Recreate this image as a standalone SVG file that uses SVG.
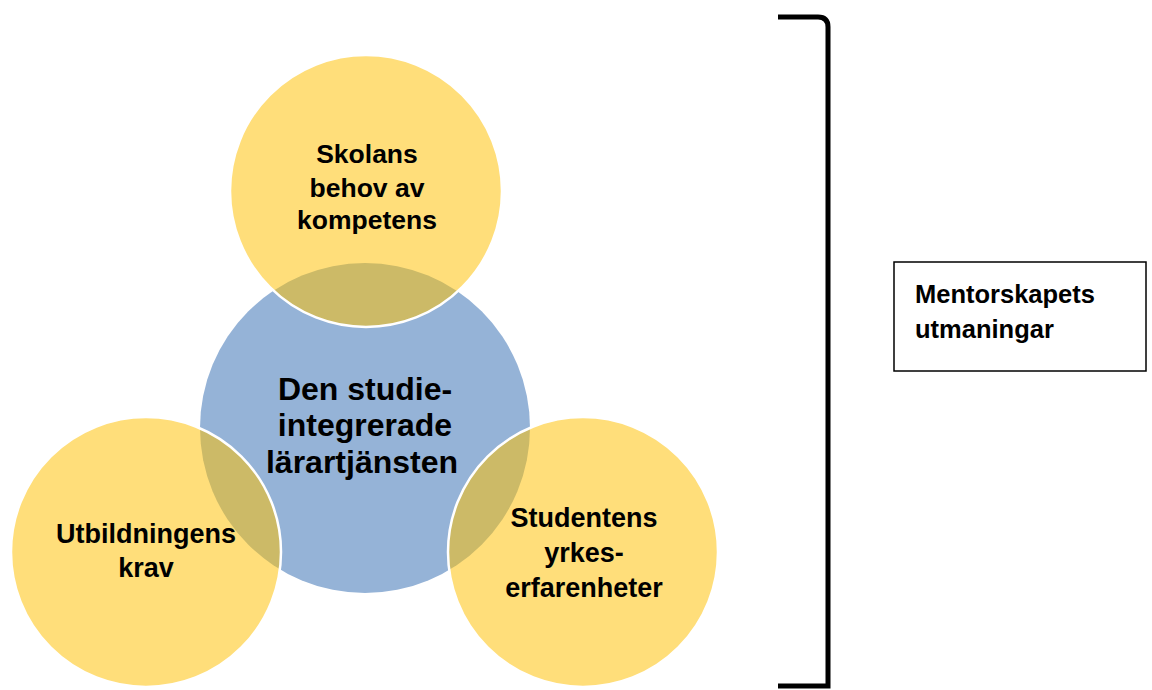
<svg xmlns="http://www.w3.org/2000/svg" width="1152" height="690" viewBox="0 0 1152 690">
<style>
.lbl{font-family:"Liberation Sans",Arial,sans-serif;font-weight:bold;fill:#000;text-anchor:middle}
.outer{fill:#FFC000;fill-opacity:0.52;stroke:#FFFFFF;stroke-width:2.5}
.center{fill:#95B3D7}
</style>
<rect width="1152" height="690" fill="#FFFFFF"/>
<g id="node-center">
<circle class="center" cx="365" cy="428" r="165"/>
<text class="lbl" font-size="32" x="365" y="400">Den studie-</text>
<text class="lbl" font-size="32" x="365" y="436">integrerade</text>
<text class="lbl" font-size="32" x="362" y="473">lärartjänsten</text>
</g>
<g id="node-top">
<circle class="outer" cx="366" cy="191" r="136"/>
<text class="lbl" font-size="26.5" x="367" y="163">Skolans</text>
<text class="lbl" font-size="26.5" x="367" y="197">behov av</text>
<text class="lbl" font-size="26.5" x="367" y="229">kompetens</text>
</g>
<g id="node-left">
<circle class="outer" cx="146" cy="552" r="135"/>
<text class="lbl" font-size="27" x="146" y="543">Utbildningens</text>
<text class="lbl" font-size="27" x="146" y="577">krav</text>
</g>
<g id="node-right">
<circle class="outer" cx="583" cy="552" r="135"/>
<text class="lbl" font-size="27" x="584" y="527">Studentens</text>
<text class="lbl" font-size="27" x="584" y="562">yrkes-</text>
<text class="lbl" font-size="27" x="584" y="597">erfarenheter</text>
</g>
<g id="connectors">
<path d="M778,17 H818 Q828,17 828,27 V686 H778" fill="none" stroke="#000" stroke-width="5"/>
</g>
<g id="node-box">
<rect x="894" y="262" width="252" height="109" fill="#FFFFFF" stroke="#000" stroke-width="1.5"/>
<text class="lbl" font-size="25.5" x="915" y="303" style="text-anchor:start">Mentorskapets</text>
<text class="lbl" font-size="25.5" x="915" y="338" style="text-anchor:start">utmaningar</text>
</g>
</svg>
